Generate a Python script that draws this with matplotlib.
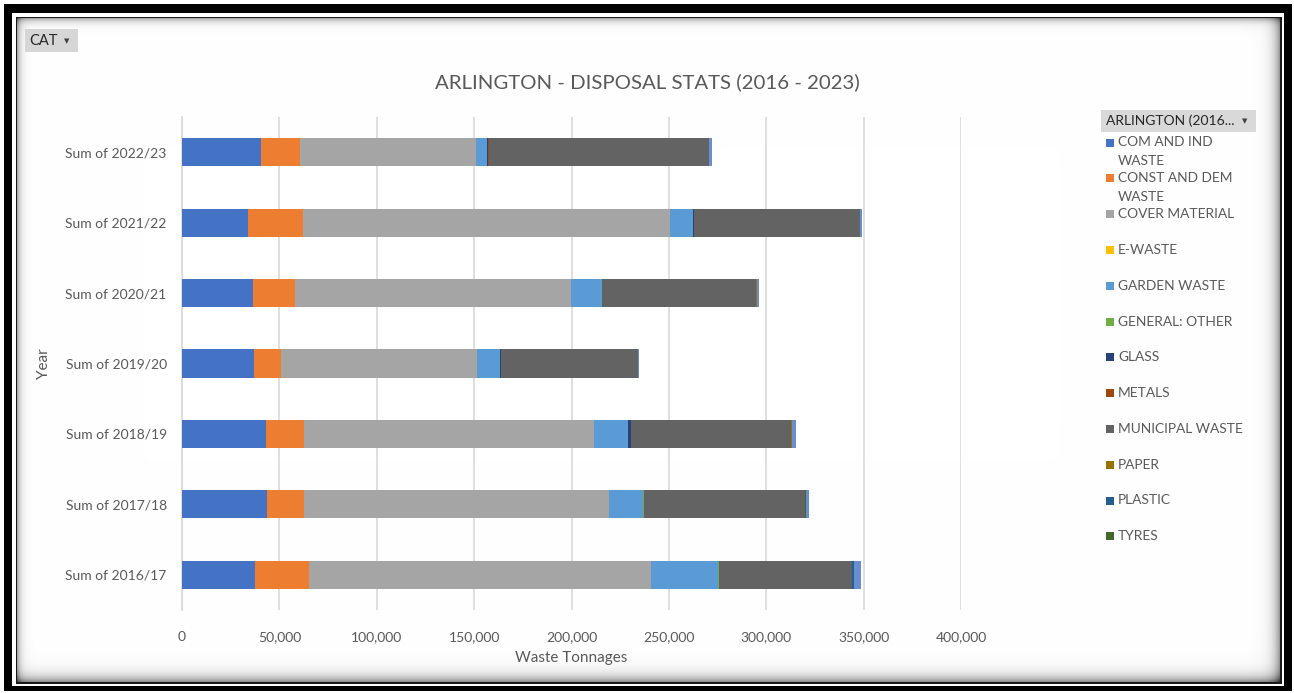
import numpy as np
import matplotlib
matplotlib.use('Agg')
import matplotlib.pyplot as plt
from matplotlib.patches import Rectangle

plt.rcParams['font.family'] = ['Lato', 'DejaVu Sans']

W, H = 1294, 693

years = ['Sum of 2016/17', 'Sum of 2017/18', 'Sum of 2018/19', 'Sum of 2019/20',
         'Sum of 2020/21', 'Sum of 2021/22', 'Sum of 2022/23']

# tonnages per waste stream, one value per year (2016/17 .. 2022/23)
com_ind   = [37300, 43630, 42950, 36800, 36400, 33700, 40550]
const_dem = [27700, 19160, 19850, 14000, 21700, 28400, 20000]
cover     = [175700, 156560, 148900, 100600, 141500, 188400, 90300]
e_waste   = [0, 0, 0, 0, 0, 0, 0]
garden    = [34300, 17400, 17100, 12000, 16000, 12000, 5700]
general   = [500, 400, 0, 0, 0, 0, 100]
glass     = [0, 0, 1700, 600, 300, 300, 700]
metals    = [0, 0, 0, 0, 0, 0, 100]
municipal = [68400, 83000, 82100, 69900, 78800, 85200, 112900]
paper     = [0, 0, 500, 0, 300, 200, 500]
plastic   = [1200, 0, 0, 0, 0, 0, 0]
tyres     = [0, 300, 200, 200, 0, 0, 0]
extra     = [3400, 1600, 1900, 800, 1300, 1000, 1500]

series = [
    ('COM AND IND\nWASTE', com_ind, '#4472C4'),
    ('CONST AND DEM\nWASTE', const_dem, '#ED7D31'),
    ('COVER MATERIAL', cover, '#A5A5A5'),
    ('E-WASTE', e_waste, '#FFC000'),
    ('GARDEN WASTE', garden, '#5B9BD5'),
    ('GENERAL: OTHER', general, '#70AD47'),
    ('GLASS', glass, '#264478'),
    ('METALS', metals, '#9E480E'),
    ('MUNICIPAL WASTE', municipal, '#636363'),
    ('PAPER', paper, '#997300'),
    ('PLASTIC', plastic, '#255E91'),
    ('TYRES', tyres, '#43682B'),
]
extra_color = '#698ED0'

fig = plt.figure(figsize=(W / 100, H / 100), dpi=100)

# ---- background: frame with inner shadow ----
bg = fig.add_axes([0, 0, 1, 1])
bg.set_xlim(0, W)
bg.set_ylim(H, 0)
bg.axis('off')

yy, xx = np.mgrid[0:H, 0:W]
img = np.ones((H, W))
dl = xx - 16
dt = yy - 17
dr = 1281 - xx
db = 683 - yy
shade = (0.45 * np.exp(-np.clip(dl, 0, None) / 3.5)
         + 0.45 * np.exp(-np.clip(dt, 0, None) / 3.5)
         + 0.55 * np.exp(-np.clip(dr, 0, None) / 6.0)
         + 0.6 * np.exp(-np.clip(db, 0, None) / 6.0))
img = 1 - np.clip(shade, 0, 0.75)
inner = (dl >= 0) & (dt >= 0) & (dr >= 0) & (db >= 0)
img[~inner] = 1.0
# thin dark line round the inner panel
line = inner & ((dl < 1) | (dt < 1) | (dr < 2) | (db < 2))
img[line] = 0.1
# thick outer black band
outer = (xx >= 4) & (xx < 1292) & (yy >= 4) & (yy < 691)
band = outer & ((xx < 12) | (xx >= 1284) | (yy < 13) | (yy >= 686))
img[band] = 0.0
bg.imshow(np.dstack([img] * 3), extent=(0, W, H, 0), interpolation='nearest', zorder=0)

# filter buttons
bg.add_patch(Rectangle((25, 29), 53, 23, facecolor='#D6D6D6', edgecolor='none', zorder=2))
bg.text(29, 41, 'CAT', fontsize=10.5, color='#262626', va='center', ha='left', zorder=3)
bg.text(67, 41, '▼', fontsize=5, color='#404040', va='center', ha='center',
        family='DejaVu Sans', zorder=3)
bg.add_patch(Rectangle((1101, 110), 155, 22, facecolor='#D9D9D9', edgecolor='none', zorder=2))
bg.text(1106, 121, 'ARLINGTON (2016...', fontsize=10, color='#262626', va='center',
        ha='left', zorder=3)
bg.text(1245, 121, '▼', fontsize=5, color='#404040', va='center', ha='center',
        family='DejaVu Sans', zorder=3)

# legend
for i, (name, vals, col) in enumerate(series):
    y0 = 142.5 + i * 35.8
    bg.add_patch(Rectangle((1106, y0 - 4), 8, 8, facecolor=col, edgecolor='none', zorder=2))
    for j, part in enumerate(name.split('\n')):
        bg.text(1118, y0 + j * 18.5, part, fontsize=9.9, color='#595959',
                va='center', ha='left', zorder=3)

# title
fig.text(647 / W, 1 - 82 / H, 'ARLINGTON - DISPOSAL STATS (2016 - 2023)',
         fontsize=14.7, color='#595959', ha='center', va='center')

# ---- bars ----
ax = fig.add_axes([182 / W, 1 - 610 / H, (961 - 182) / W, (610 - 117) / H])
ax.set_facecolor('none')
pos = np.arange(len(years))
left = np.zeros(len(years))
for name, vals, col in series:
    ax.barh(pos, vals, left=left, height=0.4, color=col, zorder=3)
    left += np.array(vals)
ax.barh(pos, extra, left=left, height=0.4, color=extra_color, zorder=3)

ax.set_xlim(0, 400000)
ax.set_ylim(-0.5, len(years) - 0.5)
ax.set_xticks(np.arange(0, 400001, 50000))
ax.set_xticklabels([f'{v:,}' for v in range(0, 400001, 50000)])
ax.set_yticks(pos)
ax.set_yticklabels(years)
ax.grid(axis='x', color='#D9D9D9', linewidth=1.2, zorder=0)
for s in ['top', 'right', 'bottom']:
    ax.spines[s].set_visible(False)
ax.spines['left'].set_color('#D9D9D9')
ax.spines['left'].set_linewidth(1.2)
ax.tick_params(axis='both', length=0, labelsize=10, labelcolor='#595959')
ax.tick_params(axis='x', pad=15)
ax.tick_params(axis='y', pad=11)
ax.set_xlabel('Waste Tonnages', fontsize=11, color='#595959', labelpad=6)
ax.set_ylabel('Year', fontsize=11, color='#595959', labelpad=10)

fig.savefig('out.png', dpi=100)
